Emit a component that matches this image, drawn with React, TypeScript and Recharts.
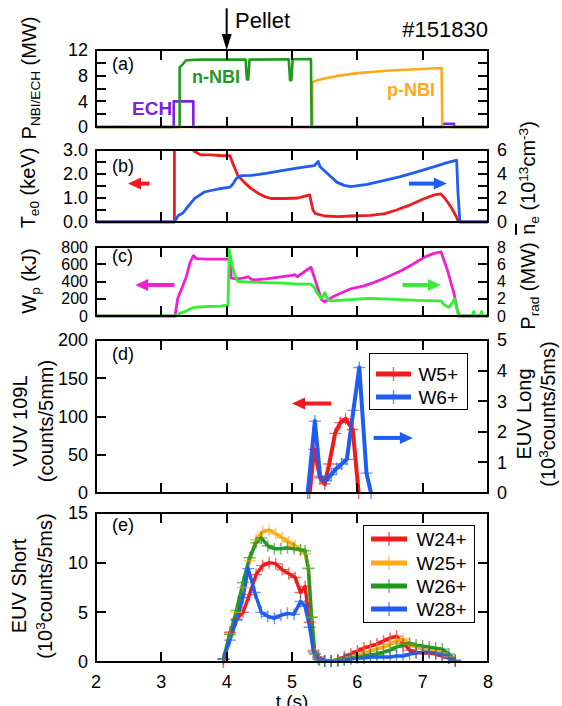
import React from 'react';
import { LineChart, Line, XAxis, YAxis, ReferenceLine } from 'recharts';

type Series = [number, number][];

const FONT = '"Liberation Sans", Arial, Helvetica, sans-serif';

const X_TICKS = [2, 3, 4, 5, 6, 7, 8];

// ---------- (a) heating power (MW)
const ECH_MW: Series = [[2,0],[3.19,0],[3.19,4.0],[3.49,4.0],[3.49,0],[7.30,0],[7.30,0.5],[7.48,0.5],[7.48,0],[8,0]];
const PNBI_MW: Series = [[2,0],[5.31,0],[5.31,6.9],[5.36,7.2],[5.5,7.55],[5.75,8.05],[6.0,8.4],[6.5,8.8],[7.0,9.05],[7.29,9.2],[7.30,0],[8,0]];
const NNBI_MW: Series = [[2,0],[3.28,0],[3.28,9.3],[3.33,9.8],[3.38,10.4],[3.6,10.5],[4.29,10.5],[4.31,7.4],[4.33,7.4],[4.35,10.5],[4.95,10.55],[4.97,7.3],[4.99,7.3],[5.01,10.55],[5.29,10.6],[5.30,0],[8,0]];

// ---------- (b) Te0 (keV) and line density (1e13 cm^-3)
const TE_KEV: Series = [[2,0],[3.2,0],[3.2,3.6],[3.45,3.6],[3.5,2.95],[3.6,2.8],[3.75,2.8],[3.9,2.77],[4.05,2.76],[4.1,2.4],[4.17,1.95],[4.27,1.65],[4.37,1.4],[4.48,1.2],[4.58,1.06],[4.68,0.98],[4.9,0.98],[5.09,1.0],[5.2,1.08],[5.27,1.13],[5.32,0.5],[5.36,0.35],[5.5,0.25],[5.7,0.22],[5.91,0.25],[6.2,0.28],[6.42,0.35],[6.6,0.5],[6.78,0.68],[7.0,0.95],[7.18,1.13],[7.28,1.17],[7.35,0.95],[7.43,0.64],[7.51,0.25],[7.55,0],[8,0]];
const NE_1E13: Series = [[2,0],[3.2,0],[3.26,0.55],[3.33,0.75],[3.41,1.3],[3.51,1.97],[3.66,2.5],[3.87,2.75],[4.05,2.9],[4.1,3.2],[4.15,3.64],[4.22,3.86],[4.38,3.88],[4.6,4.05],[4.89,4.33],[5.15,4.55],[5.34,4.69],[5.40,5.05],[5.43,4.6],[5.55,4.0],[5.69,3.3],[5.80,3.05],[5.90,2.94],[6.15,3.14],[6.4,3.45],[6.66,3.78],[6.9,4.15],[7.17,4.6],[7.35,4.9],[7.48,5.1],[7.52,5.15],[7.54,2.5],[7.57,0],[8,0]];

// ---------- (c) stored energy (kJ) and radiated power (MW)
const WP_KJ: Series = [[2,0],[3.21,0],[3.25,200],[3.28,260],[3.33,350],[3.38,450],[3.44,620],[3.49,700],[3.54,665],[3.7,660],[4.05,660],[4.07,440],[4.15,430],[4.25,440],[4.33,455],[4.38,425],[4.43,420],[4.6,430],[4.8,450],[5.0,470],[5.04,480],[5.08,455],[5.18,510],[5.29,565],[5.37,380],[5.45,190],[5.50,165],[5.62,220],[5.76,270],[5.90,315],[6.1,350],[6.26,390],[6.45,450],[6.67,525],[6.85,600],[7.02,680],[7.15,720],[7.28,745],[7.38,530],[7.48,260],[7.53,70],[7.56,0],[8,0]];
const PRAD_MW: Series = [[2,0],[3.21,0],[3.28,0.3],[3.36,0.5],[3.46,0.9],[3.51,1.0],[3.7,1.1],[3.9,1.15],[4.02,1.25],[4.04,7.7],[4.08,6.0],[4.12,4.8],[4.17,4.0],[4.3,3.95],[4.48,3.9],[4.7,3.85],[4.88,3.8],[5.1,3.7],[5.29,3.7],[5.34,3.3],[5.39,2.6],[5.45,2.0],[5.50,2.7],[5.55,1.9],[5.60,1.75],[5.9,1.9],[6.16,2.05],[6.5,1.95],[6.92,1.8],[7.28,1.75],[7.33,1.3],[7.40,1.0],[7.46,1.6],[7.49,2.0],[7.52,1.0],[7.55,0],[7.76,0],[7.78,0.5],[7.8,0],[7.88,0],[7.9,0.5],[7.92,0],[8,0]];

// ---------- (d) VUV W5+ (counts/5mm), EUV long W6+ (1e3 counts/5ms)
const W5_COUNTS: Series = [[5.27,0],[5.34,57],[5.43,20],[5.50,12],[5.57,38],[5.66,78],[5.74,92],[5.82,97],[5.93,83],[6.02,0]];
const W6_KCOUNTS: Series = [[5.24,0],[5.35,2.35],[5.43,0.55],[5.52,0.4],[5.60,0.6],[5.68,0.8],[5.76,0.95],[5.84,1.1],[5.94,2.7],[6.03,4.1],[6.14,0.65],[6.21,0]];

// ---------- (e) EUV short (1e3 counts/5ms)
const W24: Series = [[3.95,0],[4.05,3.0],[4.15,4.3],[4.25,5.0],[4.35,6.8],[4.45,8.8],[4.55,9.7],[4.65,10.0],[4.75,9.9],[4.85,9.3],[4.95,8.9],[5.05,8.5],[5.13,7.0],[5.2,7.6],[5.27,4.0],[5.33,1.2],[5.4,0.5],[5.5,0.1],[5.6,0.1],[5.7,0.2],[5.8,0.5],[5.9,0.8],[6.0,1.1],[6.1,1.4],[6.2,1.6],[6.3,1.8],[6.4,2.1],[6.5,2.4],[6.6,2.6],[6.7,1.9],[6.8,1.2],[6.9,1.0],[7.0,0.9],[7.1,0.9],[7.2,0.8],[7.3,0.6],[7.4,0.4],[7.5,0.1]];
const W25: Series = [[3.95,0.3],[4.05,2.8],[4.15,5.0],[4.25,7.5],[4.35,10.2],[4.45,12.3],[4.55,13.1],[4.65,13.3],[4.75,12.9],[4.85,12.5],[4.95,12.1],[5.05,11.7],[5.13,11.2],[5.2,10.9],[5.25,9.5],[5.3,4.5],[5.35,0.8],[5.42,0.2],[5.5,0.1],[5.6,0.1],[5.7,0.2],[5.8,0.3],[5.9,0.5],[6.0,0.7],[6.1,0.9],[6.2,1.1],[6.3,1.3],[6.4,1.5],[6.5,1.8],[6.6,2.1],[6.7,2.3],[6.8,1.8],[6.9,1.5],[7.0,1.3],[7.1,1.2],[7.2,1.1],[7.3,0.9],[7.4,0.5],[7.5,0.1]];
const W26: Series = [[3.95,0.3],[4.05,2.8],[4.15,5.2],[4.25,8.0],[4.35,10.5],[4.45,12.0],[4.53,12.5],[4.63,11.7],[4.73,11.4],[4.83,11.4],[4.93,11.5],[5.03,11.4],[5.13,11.3],[5.2,11.2],[5.25,9.4],[5.3,4.5],[5.35,0.8],[5.42,0.2],[5.5,0.1],[5.6,0.1],[5.7,0.2],[5.8,0.3],[5.9,0.4],[6.0,0.5],[6.1,0.6],[6.2,0.7],[6.3,0.8],[6.4,1.0],[6.5,1.2],[6.6,1.5],[6.7,1.7],[6.8,1.9],[6.9,1.7],[7.0,1.6],[7.1,1.5],[7.2,1.4],[7.3,1.3],[7.4,0.8],[7.5,0.2]];
const W28: Series = [[3.95,0.3],[4.05,2.2],[4.15,4.2],[4.25,6.5],[4.33,9.4],[4.43,7.0],[4.53,5.0],[4.63,4.6],[4.73,4.4],[4.83,4.7],[4.93,4.9],[5.03,4.8],[5.13,6.1],[5.2,5.6],[5.27,3.5],[5.33,1.0],[5.4,0.3],[5.5,0.1],[5.6,0.1],[5.7,0.1],[5.8,0.2],[5.9,0.3],[6.0,0.4],[6.1,0.4],[6.2,0.5],[6.3,0.5],[6.4,0.5],[6.5,0.5],[6.6,0.6],[6.7,0.6],[6.8,0.8],[6.9,0.9],[7.0,1.0],[7.1,1.0],[7.2,0.9],[7.3,0.7],[7.4,0.4],[7.5,0.1]];

// tick sets
const A_TICKS = [0, 2, 4, 6, 8, 10, 12];
const B_L_TICKS = [0, 0.5, 1, 1.5, 2, 2.5, 3];
const B_R_TICKS = [0, 1, 2, 3, 4, 5, 6];
const C_L_TICKS = [0, 200, 400, 600, 800];
const C_R_TICKS = [0, 2, 4, 6, 8];
const D_L_TICKS = [0, 50, 100, 150, 200];
const D_R_TICKS = [0, 1, 2, 3, 4, 5];
const E_TICKS = [0, 5, 10, 15];

const C_RED = '#ee1c1c';
const C_BLUE = '#1f5cf2';
const C_ORANGE = '#ffaa1a';
const C_GREEN = '#1f9a1f';
const C_LIME = '#33ee33';
const C_MAGENTA = '#f020d0';
const C_PURPLE = '#8020e0';

const pts = (s: Series) => s.map(([t, v]) => ({ t, v }));

// layout
const X0 = 96;        // left frame edge (px)
const PLOT_W = 392;   // frame width (px)
const TICK_LEN = 10;  // inward tick length (px)
const FRAME_W = 2;
const TM_L = 8, TM_R = 9, TM_B = 13;
const none = () => '';

const leftTick = (fmt: (v: number) => string, fs: number) => (p: any) => {
  const lab = fmt(p.payload.value);
  return lab === '' ? <g /> : <text x={p.x} y={p.y} dy="0.355em" textAnchor="end" fontSize={fs} fontFamily={FONT} fill="#000">{lab}</text>;
};
const rightTick = (fmt: (v: number) => string, fs: number) => (p: any) => {
  const lab = fmt(p.payload.value);
  return lab === '' ? <g /> : <text x={p.x} y={p.y} dy="0.355em" textAnchor="start" fontSize={fs} fontFamily={FONT} fill="#000">{lab}</text>;
};

function axes(o: {
  yL: number[]; yLDom: [number, number]; yLFmt?: (v: number) => string; yLOverflow?: boolean;
  yR: number[]; yRDom: [number, number]; yRFmt?: (v: number) => string; xLabels?: boolean; fs?: number;
}) {
  const fs = o.fs ?? 18;
  const common = { axisLine: false, tickLine: false, tickSize: 0, interval: 0 as const };
  return [
    <XAxis key="xb" xAxisId={0} dataKey="t" type="number" domain={[2, 8]} ticks={X_TICKS} orientation="bottom"
      height={o.xLabels ? 30 : 1} {...common} tickMargin={TM_B} tick={o.xLabels ? { fill: '#000', fontSize: 18, fontFamily: FONT } : false} />,
    <YAxis key="yl" yAxisId="L" type="number" domain={o.yLDom} ticks={o.yL} orientation="left" width={96}
      allowDataOverflow={!!o.yLOverflow} {...common} tickMargin={TM_L} tick={leftTick(o.yLFmt ?? none, fs)} />,
    <YAxis key="yr" yAxisId="R" type="number" domain={o.yRDom} ticks={o.yR} orientation="right" width={74}
      {...common} tickMargin={TM_R} tick={rightTick(o.yRFmt ?? none, fs)} />,
  ];
}

// Frame box with inward ticks, laid over each plot area (same linear mapping as the axes)
function FrameOverlay({ top, h, yL, yLDom, yR, yRDom }: any) {
  const yPx = (v: number, d: [number, number]) => top + h - ((v - d[0]) / (d[1] - d[0])) * h;
  const xPx = (t: number) => X0 + ((t - 2) / 6) * PLOT_W;
  const blk = (key: string, left: number, tp: number, w: number, hh: number) => (
    <div key={key} style={{ position: 'absolute', left, top: tp, width: w, height: hh, background: '#000' }} />
  );
  return (
    <>
      <div style={{ position: 'absolute', left: X0 - FRAME_W / 2, top: top - FRAME_W / 2, width: PLOT_W + FRAME_W, height: h + FRAME_W,
        border: `${FRAME_W}px solid #000`, boxSizing: 'border-box' }} />
      {yL.map((v: number) => blk(`l${v}`, X0, yPx(v, yLDom) - FRAME_W / 2, TICK_LEN, FRAME_W))}
      {yR.map((v: number) => blk(`r${v}`, X0 + PLOT_W - TICK_LEN, yPx(v, yRDom) - FRAME_W / 2, TICK_LEN, FRAME_W))}
      {X_TICKS.slice(1, -1).map((t) => blk(`t${t}`, xPx(t) - FRAME_W / 2, top, FRAME_W, TICK_LEN))}
      {X_TICKS.slice(1, -1).map((t) => blk(`b${t}`, xPx(t) - FRAME_W / 2, top + h - TICK_LEN, FRAME_W, TICK_LEN))}
    </>
  );
}

const arrowShape = (color: string, shaft = 4, headLen = 13, headHalf = 6) => (p: any) => {
  const { x1, y1, x2, y2 } = p;
  const dx = x2 - x1, dy = y2 - y1;
  const L = Math.hypot(dx, dy) || 1;
  const ux = dx / L, uy = dy / L;
  const bx = x2 - ux * headLen, by = y2 - uy * headLen;
  const nx = -uy, ny = ux;
  return (
    <g>
      <line x1={x1} y1={y1} x2={bx + ux} y2={by + uy} stroke={color} strokeWidth={shaft} />
      <polygon points={`${x2},${y2} ${bx + nx * headHalf},${by + ny * headHalf} ${bx - nx * headHalf},${by - ny * headHalf}`} fill={color} />
    </g>
  );
};

const crossDot = (color: string, arm = 6) => (p: any) => {
  const { cx, cy, index } = p;
  if (cx == null || cy == null) return <g key={`n${index}`} />;
  return (
    <path key={`c${index}`} d={`M${cx - arm},${cy}H${cx + arm}M${cx},${cy - arm}V${cy + arm}`}
      stroke={color} strokeWidth={1.4} strokeOpacity={0.65} fill="none" />
  );
};

function line(key: string, s: Series, color: string, yAxisId: string, width: number, markers = false) {
  return (
    <Line key={key} data={pts(s)} dataKey="v" yAxisId={yAxisId} type="linear" stroke={color} strokeWidth={width}
      strokeLinejoin="round" dot={markers ? crossDot(color) : false} activeDot={false} isAnimationActive={false} />
  );
}

function Txt({ x, base, size = 18, color = '#000', bold = false, anchor = 'start', children }: any) {
  const tx = anchor === 'end' ? 'translateX(-100%)' : anchor === 'middle' ? 'translateX(-50%)' : 'none';
  return (
    <div style={{ position: 'absolute', left: x, top: base - 0.8465 * size, fontSize: size, lineHeight: 1, color,
      fontWeight: bold ? 700 : 400, fontFamily: FONT, whiteSpace: 'nowrap', transform: tx }}>{children}</div>
  );
}

function VLabel({ cx, cy, size = 20, lh = 1, children }: any) {
  return (
    <div style={{ position: 'absolute', left: cx, top: cy, transform: 'translate(-50%,-50%) rotate(-90deg)',
      whiteSpace: 'nowrap', fontSize: size, lineHeight: lh, fontFamily: FONT, color: '#000', textAlign: 'center' }}>
      {children}
    </div>
  );
}

const sub = (t: string) => <span style={{ fontSize: '0.68em', verticalAlign: '-0.28em', lineHeight: 0 }}>{t}</span>;
const sup = (t: string) => <span style={{ fontSize: '0.68em', verticalAlign: '0.55em', lineHeight: 0 }}>{t}</span>;

function LegendBox({ left, top, width, height, rows, lineX1, lineX2, textX, size = 19 }: any) {
  return (
    <div style={{ position: 'absolute', left, top, width, height, border: '1.6px solid #000', boxSizing: 'border-box', background: '#fff' }}>
      <svg width={width} height={height} style={{ position: 'absolute', left: -1.6, top: -1.6 }}>
        {rows.map((r: any) => {
          const y = r.y - top;
          const mx = (lineX1 + lineX2) / 2 - left;
          return (
            <g key={r.label}>
              <line x1={lineX1 - left} x2={lineX2 - left} y1={y} y2={y} stroke={r.color} strokeWidth={5} />
              <path d={`M${mx - 6},${y}H${mx + 6}M${mx},${y - 7}V${y + 7}`} stroke={r.color} strokeWidth={1.4} strokeOpacity={0.7} />
            </g>
          );
        })}
      </svg>
      {rows.map((r: any) => (
        <div key={r.label} style={{ position: 'absolute', left: textX - left - 1.6, top: r.y - top - 1.6 - size / 2 - 0.02 * size,
          fontSize: size, lineHeight: `${size}px`, fontFamily: FONT, whiteSpace: 'nowrap' }}>{r.label}</div>
      ))}
    </div>
  );
}

const W = 562;

export default function App() {
  return (
    <div style={{ position: 'absolute', left: 0, top: 0, width: 562, height: 706, overflow: 'hidden', background: '#fff', fontFamily: FONT }}>
      {/* (a) plot 50..127 */}
      <div style={{ position: 'absolute', left: 0, top: 5 }}>
        <LineChart width={W} height={134} margin={{ top: 45, right: 0, bottom: 11, left: 0 }}>
          {axes({ yL: A_TICKS, yLDom: [0, 12], yLFmt: (v) => (v % 4 === 0 ? String(v) : ''), yR: A_TICKS, yRDom: [0, 12] })}
          {line('ech', ECH_MW, C_PURPLE, 'L', 2.6)}
          {line('pnbi', PNBI_MW, C_ORANGE, 'L', 2.6)}
          {line('nnbi', NNBI_MW, C_GREEN, 'L', 2.6)}
          <ReferenceLine yAxisId="L" segment={[{ x: 4, y: 18.5 }, { x: 4, y: 12 }]} ifOverflow="visible" shape={arrowShape('#000', 2, 16, 5)} />
        </LineChart>
      </div>
      {/* (b) plot 150..222 */}
      <div style={{ position: 'absolute', left: 0, top: 138 }}>
        <LineChart width={W} height={96} margin={{ top: 12, right: 0, bottom: 11, left: 0 }}>
          {axes({ yL: B_L_TICKS, yLDom: [0, 3], yLOverflow: true, yLFmt: (v) => (Number.isInteger(v) ? v.toFixed(1) : ''),
            yR: B_R_TICKS, yRDom: [0, 6], yRFmt: (v) => (v % 2 === 0 ? String(v) : '') })}
          {line('te', TE_KEV, C_RED, 'L', 2.8)}
          {line('ne', NE_1E13, C_BLUE, 'R', 2.8)}
          <ReferenceLine yAxisId="L" segment={[{ x: 2.82, y: 1.6 }, { x: 2.49, y: 1.6 }]} ifOverflow="visible" shape={arrowShape(C_RED)} />
          <ReferenceLine yAxisId="R" segment={[{ x: 6.79, y: 3.2 }, { x: 7.37, y: 3.2 }]} ifOverflow="visible" shape={arrowShape(C_BLUE)} />
        </LineChart>
      </div>
      {/* (c) plot 247..316 */}
      <div style={{ position: 'absolute', left: 0, top: 235 }}>
        <LineChart width={W} height={93} margin={{ top: 12, right: 0, bottom: 11, left: 0 }}>
          {axes({ yL: C_L_TICKS, yLDom: [0, 800], yLFmt: (v) => String(v), yR: C_R_TICKS, yRDom: [0, 8], yRFmt: (v) => String(v), fs: 16 })}
          {line('wp', WP_KJ, C_MAGENTA, 'L', 2.8)}
          {line('prad', PRAD_MW, C_LIME, 'R', 2.8)}
          <ReferenceLine yAxisId="L" segment={[{ x: 3.2, y: 360 }, { x: 2.6, y: 360 }]} ifOverflow="visible" shape={arrowShape(C_MAGENTA)} />
          <ReferenceLine yAxisId="R" segment={[{ x: 6.69, y: 3.6 }, { x: 7.28, y: 3.6 }]} ifOverflow="visible" shape={arrowShape(C_LIME)} />
        </LineChart>
      </div>
      {/* (d) plot 340..493 */}
      <div style={{ position: 'absolute', left: 0, top: 328 }}>
        <LineChart width={W} height={177} margin={{ top: 12, right: 0, bottom: 11, left: 0 }}>
          {axes({ yL: D_L_TICKS, yLDom: [0, 200], yLFmt: (v) => String(v), yR: D_R_TICKS, yRDom: [0, 5], yRFmt: (v) => String(v) })}
          {line('w5', W5_COUNTS, C_RED, 'L', 4, true)}
          {line('w6', W6_KCOUNTS, C_BLUE, 'R', 4, true)}
          <ReferenceLine yAxisId="L" segment={[{ x: 5.6, y: 117 }, { x: 5.0, y: 117 }]} ifOverflow="visible" shape={arrowShape(C_RED)} />
          <ReferenceLine yAxisId="R" segment={[{ x: 6.25, y: 1.8 }, { x: 6.85, y: 1.8 }]} ifOverflow="visible" shape={arrowShape(C_BLUE)} />
        </LineChart>
      </div>
      {/* (e) plot 513..662 */}
      <div style={{ position: 'absolute', left: 0, top: 501 }}>
        <LineChart width={W} height={201} margin={{ top: 12, right: 0, bottom: 10, left: 0 }}>
          {axes({ yL: E_TICKS, yLDom: [0, 15], yLFmt: (v) => String(v), yR: E_TICKS, yRDom: [0, 15], xLabels: true })}
          {line('w24', W24, C_RED, 'L', 3.4, true)}
          {line('w25', W25, C_ORANGE, 'L', 3.4, true)}
          {line('w26', W26, C_GREEN, 'L', 3.4, true)}
          {line('w28', W28, C_BLUE, 'L', 3.4, true)}
        </LineChart>
      </div>

      {/* frames + inward ticks */}
      <FrameOverlay top={50} h={77} yL={A_TICKS} yLDom={[0, 12]} yR={A_TICKS} yRDom={[0, 12]} />
      <FrameOverlay top={150} h={72} yL={B_L_TICKS} yLDom={[0, 3]} yR={B_R_TICKS} yRDom={[0, 6]} />
      <FrameOverlay top={247} h={69} yL={C_L_TICKS} yLDom={[0, 800]} yR={C_R_TICKS} yRDom={[0, 8]} />
      <FrameOverlay top={340} h={153} yL={D_L_TICKS} yLDom={[0, 200]} yR={D_R_TICKS} yRDom={[0, 5]} />
      <FrameOverlay top={513} h={149} yL={E_TICKS} yLDom={[0, 15]} yR={E_TICKS} yRDom={[0, 15]} />

      {/* annotations */}
      <Txt x={235} base={29} size={22}>Pellet</Txt>
      <Txt x={488} base={38} size={22} anchor="end">#151830</Txt>
      <Txt x={112} base={70} size={18}>(a)</Txt>
      <Txt x={112} base={172} size={18}>(b)</Txt>
      <Txt x={112} base={262} size={18}>(c)</Txt>
      <Txt x={112} base={360} size={18}>(d)</Txt>
      <Txt x={112} base={531} size={18}>(e)</Txt>
      <Txt x={192} base={83} size={18} bold color={C_GREEN}>n-NBI</Txt>
      <Txt x={132} base={115} size={19} bold color={C_PURPLE}>ECH</Txt>
      <Txt x={387} base={96} size={18} bold color={C_ORANGE}>p-NBI</Txt>
      <Txt x={292} base={708} size={19} anchor="middle">t (s)</Txt>

      <VLabel cx={29} cy={78}>P{sub('NBI/ECH')} (MW)</VLabel>
      <VLabel cx={28} cy={188}>T{sub('e0')} (keV)</VLabel>
      <VLabel cx={29} cy={281}>W{sub('p')} (kJ)</VLabel>
      <VLabel cx={33} cy={421} lh={1.3}>VUV 109L<br />(counts/5mm)</VLabel>
      <VLabel cx={32} cy={586} lh={1.3}>EUV Short<br />(10{sup('3')}counts/5ms)</VLabel>
      <VLabel cx={528} cy={178}><span style={{ textDecoration: 'overline' }}>n</span>{sub('e')} (10{sup('13')}cm{sup('-3')})</VLabel>
      <VLabel cx={528} cy={286}>P{sub('rad')} (MW)</VLabel>
      <VLabel cx={536} cy={414} lh={1.2}>EUV Long<br />(10{sup('3')}counts/5ms)</VLabel>

      <LegendBox left={369} top={353} width={99} height={57} lineX1={377} lineX2={412} textX={419}
        rows={[{ label: 'W5+', color: C_RED, y: 375 }, { label: 'W6+', color: C_BLUE, y: 398 }]} />
      <LegendBox left={363} top={525} width={112} height={98} lineX1={372} lineX2={408} textX={417}
        rows={[{ label: 'W24+', color: C_RED, y: 540 }, { label: 'W25+', color: C_ORANGE, y: 564 },
          { label: 'W26+', color: C_GREEN, y: 587 }, { label: 'W28+', color: C_BLUE, y: 610 }]} />
    </div>
  );
}
